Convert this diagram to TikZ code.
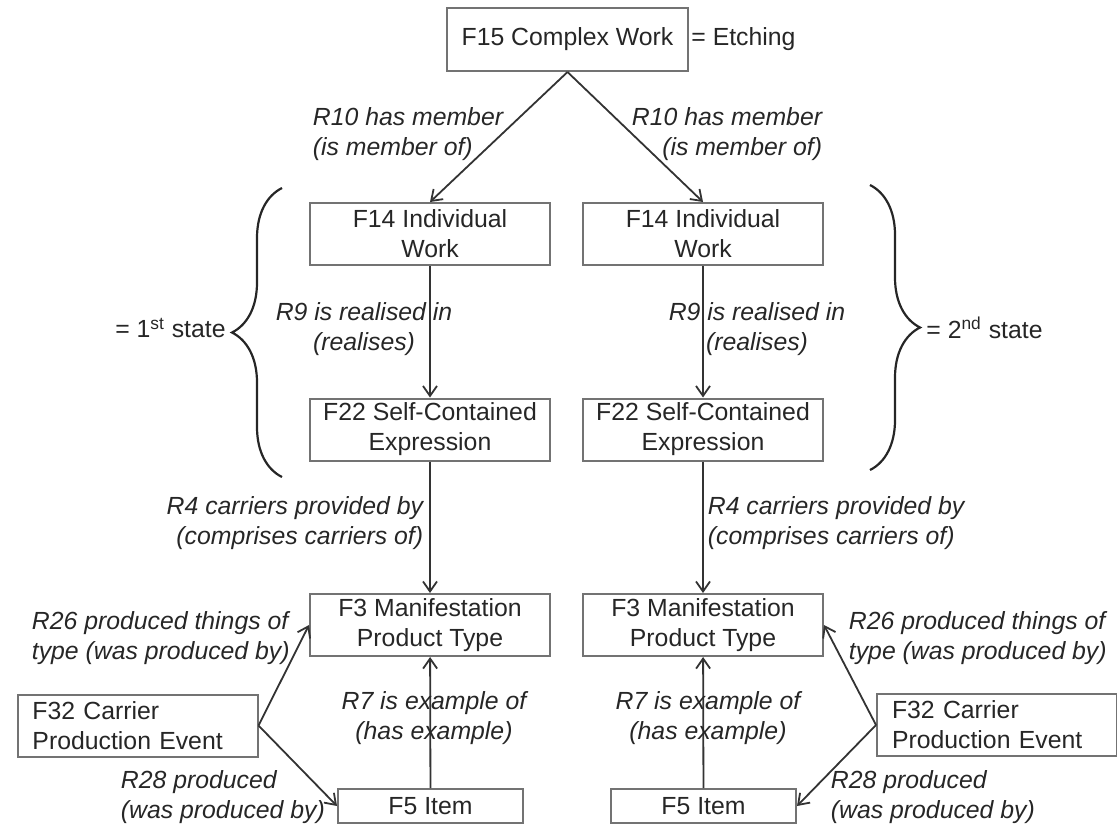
\documentclass[tikz,border=0pt]{standalone}
\usepackage{fontspec}
\setmainfont{Liberation Sans}
\usetikzlibrary{arrows.meta,decorations.pathreplacing}
\tikzstyle{every picture}=[>={Straight Barb[length=5pt,width=7pt]}]

\begin{document}
\begin{tikzpicture}[
	x=0.5pt,y=-0.5pt,
	classnode/.style={
		rectangle,minimum width=120pt,minimum height=31pt,inner sep=1pt,
		text centered,align=center,draw=black!55,line width=1pt,
		text=black!85,font=\fontsize{12.4}{15}\selectfont},
	relation/.style={->,line width=0.9pt,draw=black!80},
	event/.style={inner sep=0pt,text=black!85,font=\fontsize{12.4}{15}\selectfont\itshape},
	note/.style={inner sep=0pt,text=black!85,font=\fontsize{12.4}{15}\selectfont},
	statebrace/.style={decorate,decoration={brace,amplitude=25pt},line width=1.1pt,draw=black!85}
	]
	\useasboundingbox (0,0) rectangle (1117,826);
	% COMPLEX WORK
	\node [classnode, minimum width=120.5pt, minimum height=31.5pt] (f15) at (567.5,39.5) {F15 Complex Work};
	\node [note, anchor=west] (etching) at ([xshift=1pt]f15.east) {= Etching};
	% 1ST STATE
	\begin{scope}
		\node [classnode] (f14a) at (430,234) {F14 Individual\\Work};
		\node [classnode] (f22a) at (430,429.5) {F22 Self-Contained\\Expression};
		\node [classnode] (f3a) at (430,625) {F3 Manifestation\\Product Type};
		\node [classnode, minimum width=92.5pt, minimum height=17pt] (f5a) at (430.5,806) {F5 Item};
		\node [classnode, align=left, text width=105pt, inner xsep=7.5pt] (f32a) at (137.5,725.5) {F32 Carrier\\Production Event};
		\draw [relation] (f15.south) -- (f14a.north) node[event, anchor=west, align=left] at (312,134) {R10 has member\\(is member of)};
		\draw [relation] (f14a) -- (f22a) node[event, align=center] at (364,329) {R9 is realised in\\(realises)};
		\draw [relation] (f22a) -- (f3a) node[event, anchor=east, align=right] at (424,523.5) {R4 carriers provided by\\(comprises carriers of)};
		\draw [relation] (f5a) -- (f3a) node[event, align=center] at (434,718) {R7 is example of\\(has example)};
		\draw [relation] (f32a.east) -- (f3a.west) node[event, anchor=west, align=left] at (31,638) {R26 produced things of\\type (was produced by)};
		\draw [relation] (f32a.east) -- (f5a.west) node[event, anchor=west, align=left] at (120,797.5) {R28 produced\\(was produced by)};
		\draw [statebrace] (282,477) -- (282,188);
		\node [note, anchor=east] (first) at (226,328) {= 1\textsuperscript{st} state};
	\end{scope}
	% 2ND STATE
	\begin{scope}
		\node [classnode] (f14b) at (703,234) {F14 Individual\\Work};
		\node [classnode] (f22b) at (703,429.5) {F22 Self-Contained\\Expression};
		\node [classnode] (f3b) at (703,625) {F3 Manifestation\\Product Type};
		\node [classnode, minimum width=92.5pt, minimum height=17pt] (f5b) at (703.5,806) {F5 Item};
		\node [classnode, align=left, text width=105pt, inner xsep=7.5pt] (f32b) at (997,725) {F32 Carrier\\Production Event};
		\draw [relation] (f15.south) -- (f14b.north) node[event, anchor=east, align=right] at (823,134) {R10 has member\\(is member of)};
		\draw [relation] (f14b) -- (f22b) node[event, align=center] at (757,329) {R9 is realised in\\(realises)};
		\draw [relation] (f22b) -- (f3b) node[event, anchor=west, align=left] at (707,523.5) {R4 carriers provided by\\(comprises carriers of)};
		\draw [relation] (f5b) -- (f3b) node[event, align=center] at (708,718) {R7 is example of\\(has example)};
		\draw [relation] (f32b.west) -- (f3b.east) node[event, anchor=west, align=left] at (848,638) {R26 produced things of\\type (was produced by)};
		\draw [relation] (f32b.west) -- (f5b.east) node[event, anchor=west, align=left] at (830,797) {R28 produced\\(was produced by)};
		\draw [statebrace] (870,185) -- (870,470);
		\node [note, anchor=west] (second) at (926,328) {= 2\textsuperscript{nd} state};
	\end{scope}
\end{tikzpicture}
\end{document}
